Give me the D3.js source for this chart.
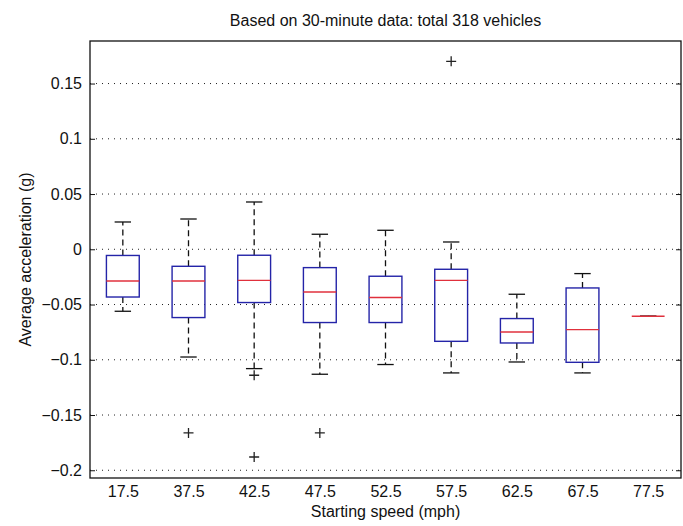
<!DOCTYPE html>
<html>
<head>
<meta http-equiv="Content-type" content="text/html; charset=utf-8">
<title>boxplot</title>
<script src="https://d3js.org/d3.v7.min.js"></script>
<style>
  body { margin:0; background:#fff; }
  text { font-family: "Liberation Sans", Arial, sans-serif; fill:#111; }
</style>
</head>
<body>
<script type="text/javascript">

  // starting speed groups (mph)
  var speeds = ["17.5","37.5","42.5","47.5","52.5","57.5","62.5","67.5","77.5"];

  // box stats per group
  var upperWhisker = [0.0247, 0.0274, 0.0428, 0.0136, 0.0172, 0.0066, -0.0407, -0.0220, -0.0606];
  var q3           = [-0.0056, -0.0154, -0.0054, -0.0166, -0.0244, -0.0181, -0.0627, -0.0350, -0.0606];
  var medians      = [-0.0287, -0.0287, -0.0281, -0.0386, -0.0437, -0.0281, -0.0748, -0.0727, -0.0606];
  var q1           = [-0.0432, -0.0618, -0.0482, -0.0663, -0.0663, -0.0833, -0.0848, -0.1023, -0.0606];
  var lowerWhisker = [-0.0561, -0.0975, -0.1080, -0.1131, -0.1043, -0.1119, -0.1020, -0.1119, -0.0606];

  // outliers: [group index, value]
  var outlierGroup = [1, 2, 2, 3, 5];
  var outlierValue = [-0.1662, -0.1140, -0.1880, -0.1662, 0.1701];

  var yTicks = [0.15, 0.1, 0.05, 0, -0.05, -0.1, -0.15, -0.2];

  var W = 683, H = 526;
  var pLeft = 90, pRight = 681, pTop = 41, pBottom = 478;
  var fs = 16;

  var svg = d3.select("body").append("svg").attr("width", W).attr("height", H);

  var x = d3.scaleLinear().domain([0.5, speeds.length + 0.5]).range([pLeft, pRight]);
  var y = d3.scaleLinear().domain([-0.207, 0.1885]).range([pBottom, pTop]);

  var boxW = 0.5, capW = 0.25;

  // dotted grid
  svg.append("g").selectAll("line").data(yTicks).enter().append("line")
    .attr("x1", pLeft).attr("x2", pRight)
    .attr("y1", function(d){ return y(d); }).attr("y2", function(d){ return y(d); })
    .attr("stroke", "#222").attr("stroke-width", 1)
    .attr("stroke-dasharray", "1,5");

  // left axis (ticks pointing inwards)
  var yAxis = d3.axisLeft(y).tickValues(yTicks).tickSizeInner(-5).tickSizeOuter(0).tickPadding(8)
    .tickFormat(function(d){ return d3.format("")(d); });
  var ga = svg.append("g").attr("transform", "translate(" + pLeft + ",0)").call(yAxis);
  ga.select(".domain").remove();
  ga.selectAll("text").attr("font-size", fs).attr("font-family", "Liberation Sans, Arial, sans-serif").attr("fill", "#111");
  ga.selectAll("line").attr("stroke", "#111");

  var gr = svg.append("g").attr("transform", "translate(" + pRight + ",0)")
    .call(d3.axisRight(y).tickValues(yTicks).tickSizeInner(-5).tickSizeOuter(0).tickFormat(""));
  gr.select(".domain").remove();
  gr.selectAll("line").attr("stroke", "#111");

  // x labels
  var xAxis = d3.axisBottom(x).tickValues(d3.range(1, speeds.length + 1)).tickSize(0).tickPadding(8)
    .tickFormat(function(d){ return speeds[d - 1]; });
  var gx = svg.append("g").attr("transform", "translate(0," + pBottom + ")").call(xAxis);
  gx.select(".domain").remove();
  gx.selectAll("text").attr("font-size", fs).attr("font-family", "Liberation Sans, Arial, sans-serif").attr("fill", "#111");

  // frame
  svg.append("rect").attr("x", pLeft).attr("y", pTop).attr("width", pRight - pLeft).attr("height", pBottom - pTop)
    .attr("fill", "none").attr("stroke", "#111").attr("stroke-width", 1.3);

  var groups = d3.range(speeds.length);
  var g = svg.append("g");

  // whiskers (dashed)
  g.selectAll(".wup").data(groups).enter().append("line")
    .attr("x1", function(i){ return x(i + 1); }).attr("x2", function(i){ return x(i + 1); })
    .attr("y1", function(i){ return y(q3[i]); }).attr("y2", function(i){ return y(upperWhisker[i]); })
    .attr("stroke", "#111").attr("stroke-width", 1.3).attr("stroke-dasharray", "6,4");
  g.selectAll(".wlo").data(groups).enter().append("line")
    .attr("x1", function(i){ return x(i + 1); }).attr("x2", function(i){ return x(i + 1); })
    .attr("y1", function(i){ return y(q1[i]); }).attr("y2", function(i){ return y(lowerWhisker[i]); })
    .attr("stroke", "#111").attr("stroke-width", 1.3).attr("stroke-dasharray", "6,4");

  // caps
  [upperWhisker, lowerWhisker].forEach(function(arr) {
    g.append("g").selectAll("line").data(groups).enter().append("line")
      .attr("x1", function(i){ return x(i + 1 - capW / 2); }).attr("x2", function(i){ return x(i + 1 + capW / 2); })
      .attr("y1", function(i){ return y(arr[i]); }).attr("y2", function(i){ return y(arr[i]); })
      .attr("stroke", "#111").attr("stroke-width", 1.3);
  });

  // boxes
  g.selectAll(".box").data(groups).enter().append("rect")
    .attr("x", function(i){ return x(i + 1 - boxW / 2); })
    .attr("width", function(){ return x(1 + boxW) - x(1); })
    .attr("y", function(i){ return y(q3[i]); })
    .attr("height", function(i){ return y(q1[i]) - y(q3[i]); })
    .attr("fill", "none").attr("stroke", "#2424a8").attr("stroke-width", 1.4);

  // medians
  g.selectAll(".med").data(groups).enter().append("line")
    .attr("x1", function(i){ return x(i + 1 - boxW / 2); }).attr("x2", function(i){ return x(i + 1 + boxW / 2); })
    .attr("y1", function(i){ return y(medians[i]); }).attr("y2", function(i){ return y(medians[i]); })
    .attr("stroke", "#e0303c").attr("stroke-width", 1.4);

  // outliers
  var pts = outlierGroup.map(function(gi, k){ return {g: gi, v: outlierValue[k]}; });
  g.selectAll(".out").data(pts).enter().append("path")
    .attr("d", function(d){
      var cx = x(d.g + 1), cy = y(d.v), r = 5;
      return "M" + (cx - r) + "," + cy + "H" + (cx + r) + "M" + cx + "," + (cy - r) + "V" + (cy + r);
    })
    .attr("stroke", "#222").attr("stroke-width", 1.3).attr("fill", "none");

  // titles
  svg.append("text").attr("x", (pLeft + pRight) / 2).attr("y", 26).attr("text-anchor", "middle")
    .attr("font-size", fs).text("Based on 30-minute data: total 318 vehicles");
  svg.append("text").attr("x", (pLeft + pRight) / 2).attr("y", 517).attr("text-anchor", "middle")
    .attr("font-size", fs).text("Starting speed (mph)");
  svg.append("text").attr("transform", "translate(31," + ((pTop + pBottom) / 2) + ") rotate(-90)")
    .attr("text-anchor", "middle").attr("font-size", fs).text("Average acceleration (g)");

</script>
</body>
</html>
